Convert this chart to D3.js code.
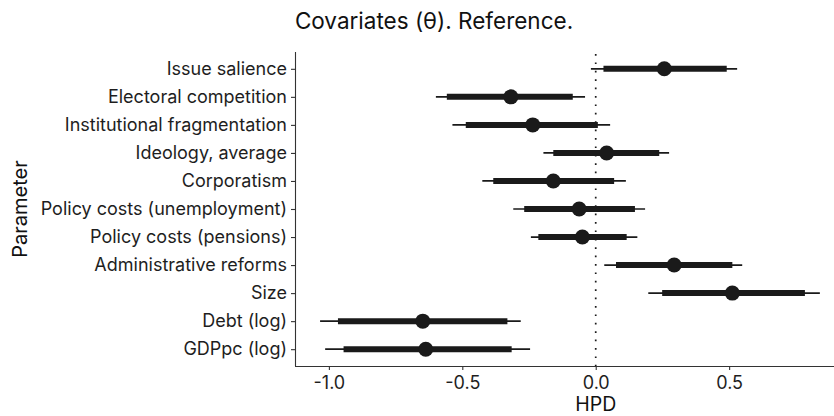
<!DOCTYPE html>
<html>
<head>
<meta charset="utf-8">
<script src="https://cdn.jsdelivr.net/npm/d3@7"></script>
<style>
  body { margin: 0; background: #fff; }
  svg { display: block; }
  text { font-family: "Inter", "Open Sans", sans-serif; }
</style>
</head>
<body>
<svg id="chart" width="834" height="416"></svg>
<script>
const parameters = [
  "Issue salience", "Electoral competition", "Institutional fragmentation",
  "Ideology, average", "Corporatism", "Policy costs (unemployment)",
  "Policy costs (pensions)", "Administrative reforms", "Size",
  "Debt (log)", "GDPpc (log)"
];
const medians   = [0.257, -0.318, -0.236, 0.041, -0.159, -0.062, -0.050, 0.294, 0.512, -0.648, -0.637];
const outerLow  = [-0.018, -0.599, -0.537, -0.196, -0.425, -0.309, -0.243, 0.032, 0.197, -1.033, -1.014];
const outerHigh = [0.530, -0.040, 0.054, 0.275, 0.113, 0.185, 0.156, 0.549, 0.840, -0.281, -0.246];
const innerLow  = [0.029, -0.558, -0.487, -0.159, -0.384, -0.268, -0.215, 0.076, 0.249, -0.966, -0.945];
const innerHigh = [0.491, -0.086, 0.008, 0.238, 0.069, 0.147, 0.116, 0.512, 0.784, -0.331, -0.315];
const xTicks = [-1.0, -0.5, 0.0, 0.5];
const xDomain = [-1.127, 0.893];

const svg = d3.select("#chart");
const pL = 295, pR = 834, pT = 52, pB = 366;

const x = d3.scaleLinear().domain(xDomain).range([pL, pR]);
const y = d3.scalePoint().domain(parameters).range([pT, pB]).padding(0.6);

const ink = "#1a1a1a";

// zero reference line
svg.append("line")
  .attr("x1", x(0)).attr("x2", x(0))
  .attr("y1", pT + 2).attr("y2", pB)
  .attr("stroke", ink).attr("stroke-width", 1.7)
  .attr("stroke-dasharray", "1.7,6.7");

const rows = parameters.map((p, i) => ({
  p, m: medians[i], ol: outerLow[i], oh: outerHigh[i], il: innerLow[i], ih: innerHigh[i]
}));

const g = svg.append("g");
g.selectAll("line.outer").data(rows).join("line").attr("class", "outer")
  .attr("x1", d => x(d.ol)).attr("x2", d => x(d.oh))
  .attr("y1", d => y(d.p)).attr("y2", d => y(d.p))
  .attr("stroke", ink).attr("stroke-width", 1.7);
g.selectAll("line.inner").data(rows).join("line").attr("class", "inner")
  .attr("x1", d => x(d.il)).attr("x2", d => x(d.ih))
  .attr("y1", d => y(d.p)).attr("y2", d => y(d.p))
  .attr("stroke", ink).attr("stroke-width", 6);
g.selectAll("circle").data(rows).join("circle")
  .attr("cx", d => x(d.m)).attr("cy", d => y(d.p)).attr("r", 7.5)
  .attr("fill", ink);

// axes
const fmt = d => d3.format(".1f")(d).replace("\u2212", "-");
const xAxis = svg.append("g").attr("transform", `translate(0,${pB})`)
  .call(d3.axisBottom(x).tickValues(xTicks).tickFormat(fmt).tickSizeOuter(0).tickSize(4).tickPadding(6));
const yAxis = svg.append("g").attr("transform", `translate(${pL},0)`)
  .call(d3.axisLeft(y).tickSizeOuter(0).tickSize(4).tickPadding(4));

[xAxis, yAxis].forEach(a => {
  a.select(".domain").attr("stroke", "#333").attr("stroke-width", 1.1);
  a.selectAll(".tick line").attr("stroke", "#333").attr("stroke-width", 1.1);
  a.selectAll(".tick text").attr("fill", "#1e1e1e").attr("font-size", 18)
    .attr("font-family", "Inter, sans-serif");
});
xAxis.select(".domain").attr("d", `M${pL},0.5H${pR}`);
yAxis.select(".domain").attr("d", `M0.5,${pT}V${pB}`);

// labels
svg.append("text").attr("x", 434).attr("y", 29).attr("text-anchor", "middle")
  .attr("font-size", 22.5).attr("fill", "#111")
  .attr("font-family", "Roboto, sans-serif").text("Covariates (θ). Reference.");
svg.append("text").attr("x", x(0)).attr("y", 411).attr("text-anchor", "middle")
  .attr("font-size", 19.5).attr("fill", "#111").text("HPD");
svg.append("text").attr("transform", `translate(27,${(pT + pB) / 2}) rotate(-90)`)
  .attr("text-anchor", "middle").attr("font-size", 20).attr("fill", "#111").text("Parameter");
</script>
</body>
</html>
